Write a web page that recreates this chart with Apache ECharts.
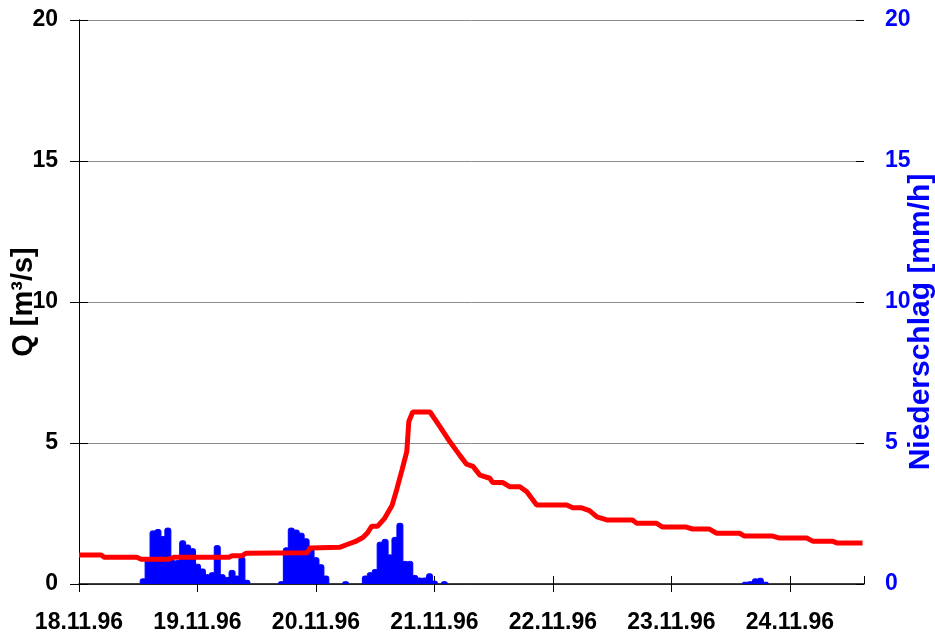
<!DOCTYPE html>
<html>
<head>
<meta charset="utf-8">
<title>Abfluss und Niederschlag</title>
<script src="https://cdn.jsdelivr.net/npm/echarts@6/dist/echarts.min.js"></script>
<style>
  html, body { margin: 0; padding: 0; background: #fff; }
  #chart { width: 935px; height: 639px; }
</style>
</head>
<body>
<div id="chart"></div>
<script>
// hours since 18.11.96 00:00
const qHours = [0, 4.5, 5.1, 11.7, 12.6, 18.2, 19.2, 30.4, 31, 33,
  33.8, 46.2, 46.8, 52.8, 54.3, 55.9, 57.5, 58.5, 59.3, 60.5,
  61.9, 63.4, 64.4, 65.4, 66.4, 66.8, 67.6, 71.1, 73.1, 75.1,
  77.1, 78.5, 79.8, 81.2, 83.2, 83.8, 85.8, 87.2, 89.3, 90.7,
  92.7, 98.8, 100, 101.8, 103.4, 104.9, 106.9, 112.1, 113, 117,
  118.2, 123, 124.3, 127.7, 129.1, 133.8, 134.8, 140.5, 141.9, 147.4,
  148.6, 152.6, 153.6, 158.7];
const qValues = [1.03, 1.03, 0.95, 0.95, 0.88, 0.88, 0.95, 0.95, 1.0, 1.0,
  1.09, 1.11, 1.28, 1.3, 1.4, 1.5, 1.65, 1.83, 2.05, 2.05,
  2.33, 2.78, 3.38, 4.03, 4.7, 5.76, 6.1, 6.1, 5.58, 5.05,
  4.57, 4.25, 4.17, 3.86, 3.75, 3.6, 3.6, 3.45, 3.45, 3.27,
  2.8, 2.8, 2.7, 2.7, 2.6, 2.38, 2.27, 2.27, 2.15, 2.15,
  2.02, 2.02, 1.95, 1.95, 1.8, 1.8, 1.7, 1.7, 1.63, 1.63,
  1.52, 1.52, 1.45, 1.45];

const rainHours = [13, 14, 15, 16, 17, 18, 19, 20, 21, 22, 23, 24, 25, 26, 27, 28, 29, 30, 31, 32, 33, 34,
  41, 42, 43, 44, 45, 46, 47, 48, 49, 50,
  54,
  58, 59, 60, 61, 62, 63, 64, 65, 66, 67, 68, 69, 70, 71, 72,
  74,
  135, 136, 137, 138, 139];
const rainValues = [0.2, 0.9, 1.9, 1.95, 1.7, 2.0, 0.85, 0.85, 1.55, 1.4, 1.27, 0.72, 0.55, 0.35, 0.42, 1.38, 0.35, 0.25, 0.5, 0.3, 0.97, 0.15,
  0.1, 1.3, 2.0, 1.93, 1.82, 1.62, 1.3, 0.95, 0.7, 0.3,
  0.1,
  0.3, 0.42, 0.53, 1.5, 1.6, 1.05, 1.67, 2.17, 0.82, 0.82, 0.32, 0.23, 0.23, 0.38, 0.12,
  0.1,
  0.08, 0.1, 0.2, 0.22, 0.08];

const startDay = 18;
const endHour = 159;

const chart = echarts.init(document.getElementById('chart'), null, { renderer: 'canvas' });

const dayLabel = (h) => {
  if (h % 24 !== 0) return '';
  return (startDay + h / 24) + '.11.96';
};

const yBase = {
  type: 'value', min: 0, max: 20, interval: 5
};

chart.setOption({
  animation: false,
  backgroundColor: '#fff',
  grid: { left: 79, right: 71, top: 20, bottom: 55, containLabel: false, outerBoundsMode: 'none' },
  xAxis: [
    {
      type: 'value', min: 0, max: endHour, interval: 24,
      axisLine: { lineStyle: { color: '#000', width: 1.5 } },
      axisTick: { length: 8, lineStyle: { color: '#000' } },
      splitLine: { show: false },
      axisLabel: {
        formatter: dayLabel, showMaxLabel: false, hideOverlap: false, margin: 27,
        fontFamily: 'Liberation Sans',
        fontWeight: 'bold', fontSize: 23, color: '#000'
      }
    },
    {
      type: 'value', min: 0, max: endHour, interval: 24, position: 'bottom',
      axisLine: { show: false },
      axisTick: { inside: true, length: 8, lineStyle: { color: '#000' } },
      axisLabel: { show: false },
      splitLine: { show: false }
    }
  ],
  yAxis: [
    Object.assign({}, yBase, {
      position: 'left',
      name: 'Q [m³/s]', nameLocation: 'middle', nameRotate: 90, nameGap: 41, nameMoveOverlap: false,
      nameTextStyle: { fontFamily: 'Liberation Sans', fontWeight: 'bold', fontSize: 29, color: '#000' },
      axisLine: { show: true, lineStyle: { color: '#000' } },
      axisTick: { show: true, length: 9, lineStyle: { color: '#000' } },
      splitLine: { lineStyle: { color: '#8c8c8c', width: 1 } },
      axisLabel: { margin: 21, fontFamily: 'Liberation Sans', fontWeight: 'bold', fontSize: 23, color: '#000' }
    }),
    Object.assign({}, yBase, {
      position: 'right',
      name: 'Niederschlag [mm/h]', nameLocation: 'middle', nameRotate: 90, nameGap: 42, nameMoveOverlap: false,
      nameTextStyle: {
        fontFamily: 'Liberation Sans', fontWeight: 'bold', fontSize: 30, color: '#0000ff',
        padding: [0, 40, 0, 0]
      },
      axisLine: { show: true, lineStyle: { color: '#000' } },
      axisTick: { show: true, length: 9, lineStyle: { color: '#000' } },
      splitLine: { show: false },
      axisLabel: { margin: 21, fontFamily: 'Liberation Sans', fontWeight: 'bold', fontSize: 23, color: '#0000ff' }
    }),
    Object.assign({}, yBase, {
      position: 'left',
      axisLine: { show: false },
      axisTick: { show: true, inside: true, length: 8, lineStyle: { color: '#000' } },
      axisLabel: { show: false },
      splitLine: { show: false }
    }),
    Object.assign({}, yBase, {
      position: 'right',
      axisLine: { show: false },
      axisTick: { show: true, inside: true, length: 8, lineStyle: { color: '#000' } },
      axisLabel: { show: false },
      splitLine: { show: false }
    })
  ],
  series: [
    {
      name: 'Niederschlag',
      type: 'bar',
      xAxisIndex: 0,
      yAxisIndex: 1,
      barWidth: 7,
      itemStyle: { color: '#0000ff', borderColor: '#0000ff', borderWidth: 1, borderRadius: [2, 2, 0, 0] },
      data: rainHours.map((h, i) => [h, rainValues[i]])
    },
    {
      name: 'Q',
      type: 'line',
      xAxisIndex: 0,
      yAxisIndex: 0,
      showSymbol: false,
      z: 5,
      lineStyle: { color: '#ff0000', width: 5 },
      data: qHours.map((h, i) => [h, qValues[i]])
    }
  ]
});
</script>
</body>
</html>
